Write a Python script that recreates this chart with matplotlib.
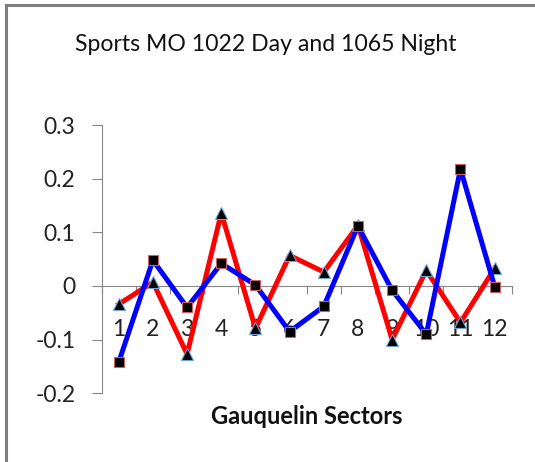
import matplotlib
matplotlib.use("Agg")
import matplotlib.pyplot as plt
from matplotlib.lines import Line2D

plt.rcParams["font.family"] = ["Lato", "DejaVu Sans"]

sectors = list(range(1, 13))
sector_labels = [str(s) for s in sectors]
# red line / triangle markers
red_tri = [-0.034, 0.007, -0.127, 0.136, -0.079, 0.057, 0.026, 0.113, -0.100, 0.029, -0.068, 0.033]
# blue line / square markers
blue_sq = [-0.142, 0.048, -0.040, 0.042, 0.002, -0.085, -0.038, 0.112, -0.008, -0.090, 0.218, -0.001]

fig = plt.figure(figsize=(5.35, 4.62), dpi=100)
ax = fig.add_axes([0.190, 0.1487, 0.7665, 0.5807])

ax.plot(sectors, red_tri, color="#ff0000", lw=3.6, marker="^", ms=8.5,
        mfc="black", mec="#6fa0d8", mew=0.8, zorder=3)
ax.plot(sectors, blue_sq, color="#0000ff", lw=3.6, marker="s", ms=7.5,
        mfc="black", mec="#d06060", mew=0.8, zorder=4)

ax.set_xlim(0.5, 12.5)
ax.set_ylim(-0.2, 0.3)
ax.set_yticks([-0.2, -0.1, 0, 0.1, 0.2, 0.3])
ax.set_yticklabels(["-0.2", "-0.1", "0", "0.1", "0.2", "0.3"])

grey = "#868686"
for s in ["top", "right"]:
    ax.spines[s].set_visible(False)
ax.spines["bottom"].set_position(("data", 0))
ax.spines["bottom"].set_color(grey)
ax.spines["left"].set_color(grey)

ax.set_xticks([x + 0.5 for x in range(0, 13)])
ax.set_xticklabels([])
ax.set_xticks(sectors, minor=True)
ax.set_xticklabels(sector_labels, minor=True)
ax.tick_params(axis="x", which="major", direction="out", length=6, color=grey)
ax.tick_params(axis="x", which="minor", length=0, pad=24, labelsize=16.5, labelcolor="#222222")
ax.tick_params(axis="y", direction="out", length=7, color=grey, labelsize=16.5,
               labelcolor="#222222", pad=12)

fig.text(0.497, 0.903, "Sports MO 1022 Day and 1065 Night", ha="center", va="center",
         fontsize=16.6, color="#111111")
fig.text(0.573, 0.098, "Gauquelin Sectors", ha="center", va="center",
         fontsize=17, fontweight="bold", color="#111111")

# chart frame (left and top edges only)
fig.add_artist(Line2D([0.011, 0.011], [0.0, 0.99], color="#7f7f7f", lw=2.2,
                      transform=fig.transFigure))
fig.add_artist(Line2D([0.011, 1.0], [0.99, 0.99], color="#7f7f7f", lw=2.2,
                      transform=fig.transFigure))

fig.savefig("out.png", dpi=100)
